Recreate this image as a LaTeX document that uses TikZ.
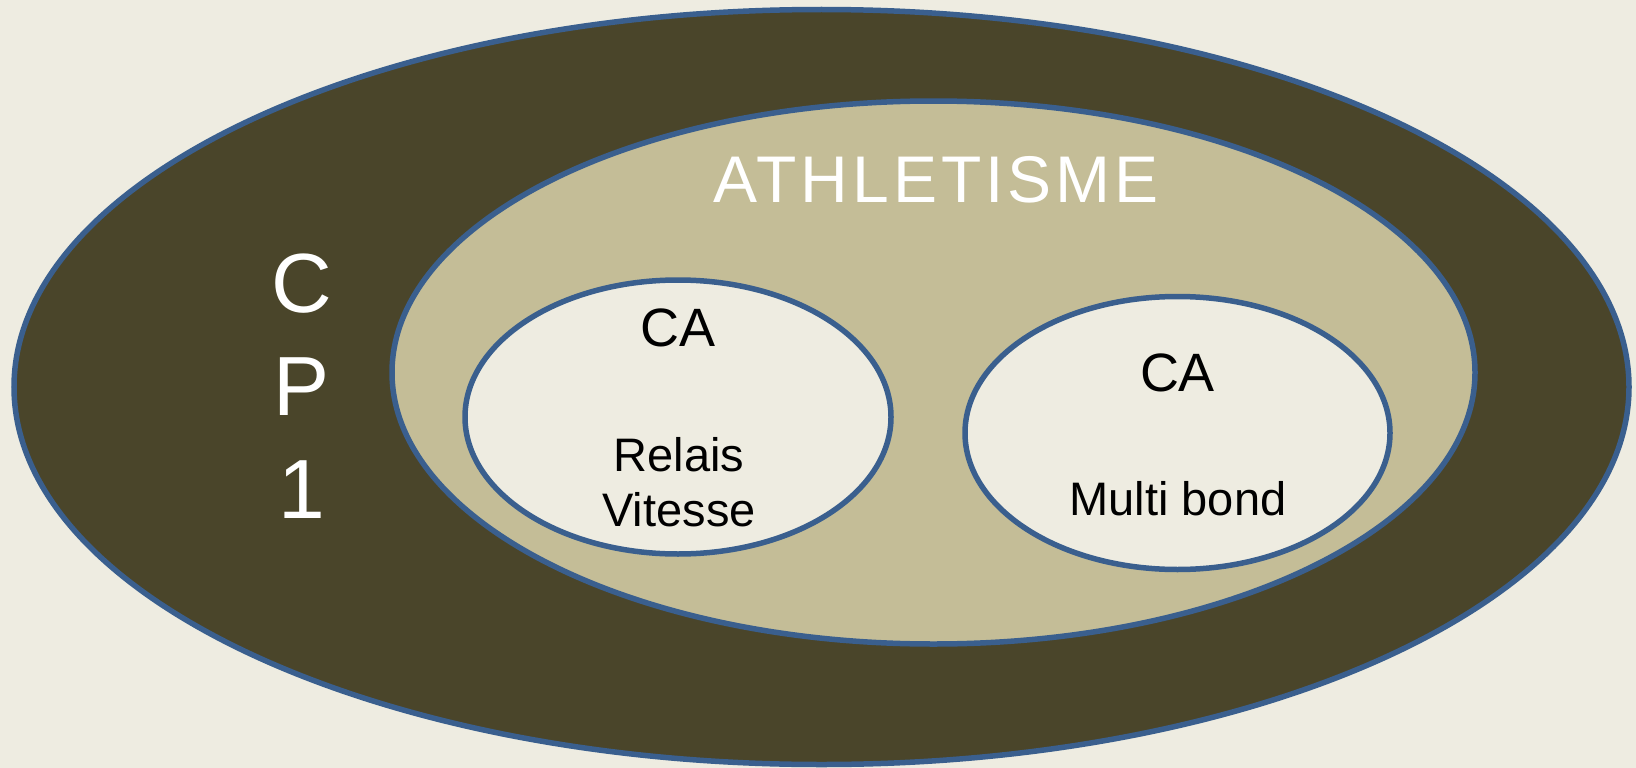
\documentclass[tikz,border=0pt]{standalone}
\usepackage{fontspec}
\setmainfont{Liberation Sans}
\usetikzlibrary{shapes.geometric}
\definecolor{fond}{HTML}{EEECE1}
\definecolor{olive}{HTML}{4A452A}
\definecolor{sable}{HTML}{C4BD97}
\definecolor{bord}{HTML}{3A5F8E}
\tikzset{
  zone/.style={ellipse, draw=bord, line width=5.5pt, inner sep=0pt},
  gros/.style={anchor=base, text=white, font=\fontsize{84}{100}\selectfont},
  titre/.style={anchor=base, text=white, font=\fontsize{66}{80}\selectfont\addfontfeature{LetterSpace=6}},
  sigle/.style={anchor=base, text=black, font=\fontsize{54}{64}\selectfont},
  texte/.style={anchor=base, text=black, font=\fontsize{47}{55}\selectfont}
}
\begin{document}
\begin{tikzpicture}[x=1pt, y=-1pt]
	\fill[fond] (0,0) rectangle (1636,768);
	\useasboundingbox (0,0) rectangle (1636,768);

	% les zones
	\node[zone, fill=olive, minimum width=1615pt, minimum height=755pt] (cp) at (821.5,387) {};
	\node[zone, fill=sable, minimum width=1083pt, minimum height=543pt] (athle) at (933.5,372.5) {};
	\node[zone, fill=fond, minimum width=426pt, minimum height=274pt] (relais) at (678,417) {};
	\node[zone, fill=fond, minimum width=425pt, minimum height=273pt] (multi) at (1177.5,433) {};

	% les textes
	\node[gros] (lettrec) at (302,312) {C};
	\node[gros] (lettrep) at (302,415.5) {P};
	\node[gros] (chiffre) at (302,518) {1};
	\node[titre] (athletisme) at (936,202) {ATHLETISME};

	\node[sigle] (caun) at (678.5,346.7) {CA};
	\node[texte] (relaisl) at (679,471.7) {Relais};
	\node[texte] (vitesse) at (679,526.7) {Vitesse};

	\node[sigle] (cadeux) at (1177.5,391) {CA};
	\node[texte] (multibond) at (1178,515) {Multi bond};
\end{tikzpicture}
\end{document}
